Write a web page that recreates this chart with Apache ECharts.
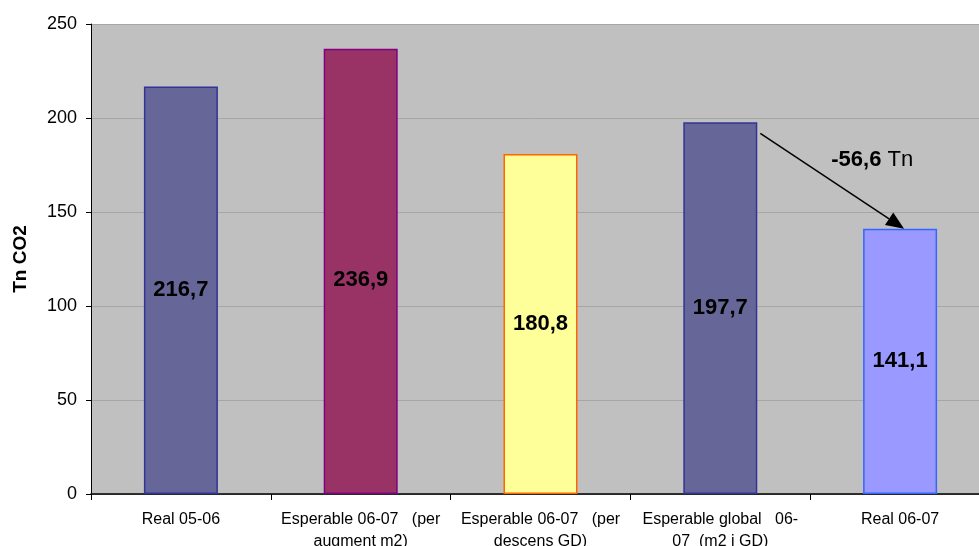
<!DOCTYPE html>
<html>
<head>
<meta charset="utf-8">
<style>
  html, body { margin: 0; padding: 0; background: #ffffff; }
  #chart { width: 979px; height: 546px; }
</style>
<script src="https://cdn.jsdelivr.net/npm/echarts@6/dist/echarts.min.js"></script>
</head>
<body>
<div id="chart"></div>
<script>
// Emissions per period (Tn CO2)
const categories = [
  'Real 05-06',
  'Esperable 06-07   (per\naugment m2)',
  'Esperable 06-07   (per\ndescens GD)',
  'Esperable global   06-\n07  (m2 i GD)',
  'Real 06-07'
];
const values = [216.7, 236.9, 180.8, 197.7, 141.1];
const fillColors = ['#666699', '#993366', '#FFFF99', '#666699', '#9999FF'];
const borderColors = ['#333399', '#800080', '#FF6600', '#333399', '#3366FF'];
const yTicks = { min: 0, max: 250, step: 50 };
const reductionText = '-56,6';

const FONT = '"Liberation Sans", Arial, sans-serif';
const chart = echarts.init(document.getElementById('chart'));

const fmt = v => v.toFixed(1).replace('.', ',');

const option = {
  animation: false,
  backgroundColor: '#ffffff',
  grid: {
    left: 91, top: 24, width: 899, height: 470,
    outerBoundsMode: 'none',
    containLabel: false,
    show: true, backgroundColor: '#C0C0C0', borderWidth: 0
  },
  xAxis: {
    type: 'category',
    data: categories,
    boundaryGap: true,
    axisLine: { lineStyle: { color: '#000000', width: 1.5 } },
    axisTick: { show: true, length: 6, lineStyle: { color: '#000000' } },
    axisLabel: {
      interval: 0, margin: 15, color: '#000000',
      fontFamily: FONT, fontSize: 16, lineHeight: 22
    }
  },
  yAxis: {
    type: 'value',
    min: yTicks.min, max: yTicks.max, interval: yTicks.step,
    name: 'Tn CO2',
    nameLocation: 'middle',
    nameGap: 61,
    nameRotate: 90,
    nameTextStyle: { fontFamily: FONT, fontSize: 19, fontWeight: 'bold', color: '#000000' },
    axisLine: { show: true, lineStyle: { color: '#000000', width: 1 } },
    axisTick: { show: true, length: 5, lineStyle: { color: '#000000' } },
    axisLabel: { margin: 14, color: '#000000', fontFamily: FONT, fontSize: 18 },
    splitLine: { show: true, lineStyle: { color: '#A6A6A6', width: 1 } }
  },
  series: [{
    type: 'bar',
    barWidth: 74,
    data: values.map((v, i) => ({
      value: v,
      itemStyle: { color: fillColors[i], borderColor: borderColors[i], borderWidth: 1.5 },
      label: i === 1 ? { offset: [0, 9] } : undefined
    })),
    label: {
      show: true, position: 'inside',
      formatter: p => fmt(p.value),
      color: '#000000', fontFamily: FONT, fontSize: 22, fontWeight: 'bold'
    }
  }]
};
chart.setOption(option);

// Arrow from the 06-07 expected bar down to the real 06-07 bar
function drawArrow() {
  const a = chart.convertToPixel({ gridIndex: 0 }, [3, values[3]]);
  const b = chart.convertToPixel({ gridIndex: 0 }, [4, values[4]]);
  const x1 = a[0] + 40, y1 = a[1] + 11;
  const x2 = b[0] + 4, y2 = b[1];
  const dx = x2 - x1, dy = y2 - y1;
  const len = Math.sqrt(dx * dx + dy * dy);
  const ux = dx / len, uy = dy / len;
  const headLen = 18, headHalf = 7.5;
  const bx = x2 - ux * headLen, by = y2 - uy * headLen;
  const px = -uy, py = ux;
  chart.setOption({
    graphic: [
      {
        type: 'line', silent: true, z: 100,
        shape: { x1: x1, y1: y1, x2: bx, y2: by },
        style: { stroke: '#000000', lineWidth: 1.5 }
      },
      {
        type: 'polygon', silent: true, z: 100,
        shape: { points: [[x2, y2], [bx + px * headHalf, by + py * headHalf], [bx - px * headHalf, by - py * headHalf]] },
        style: { fill: '#000000' }
      },
      {
        type: 'text', silent: true, z: 100,
        x: (x1 + x2) / 2 + 40, y: (y1 + y2) / 2 - 21,
        style: {
          text: '{b|' + reductionText + '}{n| Tn}',
          align: 'center', verticalAlign: 'middle',
          rich: {
            b: { fontFamily: FONT, fontSize: 22, fontWeight: 'bold', fill: '#000000' },
            n: { fontFamily: FONT, fontSize: 22, fill: '#000000' }
          }
        }
      }
    ]
  });
}
drawArrow();
</script>
</body>
</html>
